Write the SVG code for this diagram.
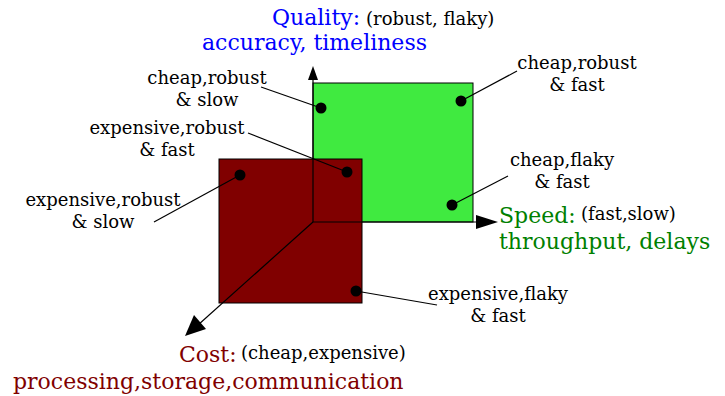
<svg xmlns="http://www.w3.org/2000/svg" width="725" height="396" viewBox="0 0 725 396">
<style>
text{font-family:"DejaVu Serif",serif;}
.s{font-size:18px;fill:#000}
.b{font-size:22px}
.ld{stroke:#000;stroke-width:1.2;fill:none}
.ax{stroke:#000;stroke-width:1.2;fill:none}
.dot{fill:#000}
</style>
<rect width="725" height="396" fill="#fff"/>
<g id="green-square"><rect x="313" y="83" width="160" height="139" fill="#40ea40" stroke="#000" stroke-width="1"/></g>
<g id="red-square"><rect x="219" y="159" width="143" height="144" fill="#800000" stroke="#000" stroke-width="1"/></g>
<g id="connectors">
<line class="ax" x1="313" y1="222" x2="313" y2="80"/>
<polygon points="313,66 308,80 318,80" fill="#000"/>
<line class="ax" x1="313" y1="222" x2="478" y2="222"/>
<polygon points="498,222 476,215 476,229" fill="#000"/>
<line class="ax" x1="313" y1="222" x2="198" y2="325"/>
<polygon points="185,336 194,315 206,329" fill="#000"/>
<line class="ld" x1="321" y1="108" x2="261" y2="87"/>
<line class="ld" x1="461" y1="101" x2="517" y2="71"/>
<line class="ld" x1="347" y1="172" x2="248" y2="133"/>
<line class="ld" x1="240" y1="175" x2="154" y2="222"/>
<line class="ld" x1="452" y1="205" x2="508" y2="176"/>
<line class="ld" x1="356" y1="291" x2="437" y2="305"/>
</g>
<g id="points">
<circle class="dot" cx="321" cy="108" r="5.5"/>
<circle class="dot" cx="461" cy="101" r="5.5"/>
<circle class="dot" cx="347" cy="172" r="5.5"/>
<circle class="dot" cx="240" cy="175" r="5.5"/>
<circle class="dot" cx="452" cy="205" r="5.5"/>
<circle class="dot" cx="356" cy="291" r="5.5"/>
</g>
<g id="quality-label">
<text class="b" x="272" y="25" fill="#0000ff">Quality:</text>
<text class="s" x="366" y="25">(robust, flaky)</text>
<text class="b" x="202" y="50" fill="#0000ff">accuracy, timeliness</text>
</g>
<g id="speed-label">
<text class="b" x="499" y="223" fill="#008000">Speed:</text>
<text class="s" x="581" y="220">(fast,slow)</text>
<text class="b" x="499" y="249" fill="#008000">throughput, delays</text>
</g>
<g id="cost-label">
<text class="b" x="179" y="362" fill="#800000">Cost:</text>
<text class="s" x="241" y="359">(cheap,expensive)</text>
<text class="b" x="13" y="389" fill="#800000">processing,storage,communication</text>
</g>
<g id="label-cheap-robust-slow" text-anchor="middle">
<text class="s" x="207" y="84">cheap,robust</text>
<text class="s" x="207" y="106">&amp; slow</text>
</g>
<g id="label-expensive-robust-fast" text-anchor="middle">
<text class="s" x="167" y="134">expensive,robust</text>
<text class="s" x="167" y="156">&amp; fast</text>
</g>
<g id="label-expensive-robust-slow" text-anchor="middle">
<text class="s" x="103" y="206">expensive,robust</text>
<text class="s" x="103" y="228">&amp; slow</text>
</g>
<g id="label-cheap-robust-fast" text-anchor="middle">
<text class="s" x="577" y="69">cheap,robust</text>
<text class="s" x="577" y="91">&amp; fast</text>
</g>
<g id="label-cheap-flaky-fast" text-anchor="middle">
<text class="s" x="562" y="166">cheap,flaky</text>
<text class="s" x="562" y="188">&amp; fast</text>
</g>
<g id="label-expensive-flaky-fast" text-anchor="middle">
<text class="s" x="498" y="300">expensive,flaky</text>
<text class="s" x="498" y="322">&amp; fast</text>
</g>
</svg>
